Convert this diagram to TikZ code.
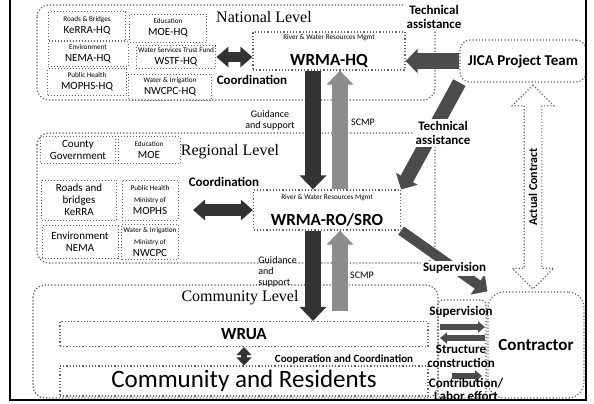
\documentclass[tikz,border=0pt]{standalone}
\usepackage{fontspec}
\setmainfont{Liberation Serif}
\newfontfamily\calfont{Carlito}
\usetikzlibrary{arrows.meta,shapes.arrows}

\newcommand{\smalltxt}[1]{{\calfont\fontsize{3.6}{4}\selectfont #1}}

\tikzset{
  levelbox/.style={draw=black!65, densely dotted, line width=0.6pt, rounded corners=6pt},
  levellabel/.style={font=\fontsize{8}{9}\selectfont, inner sep=1pt},
  orgbox/.style={draw=black!60, densely dotted, line width=0.5pt, align=center, inner sep=1pt,
    font=\calfont\fontsize{5.5}{6}\selectfont},
  wrmabox/.style={draw=black!60, densely dotted, line width=0.6pt, align=center, inner sep=1pt},
  roundbox/.style={draw=black!60, densely dotted, line width=0.6pt, rounded corners=5pt,
    font=\calfont\bfseries\fontsize{7.5}{8}\selectfont},
  lbl/.style={font=\calfont\bfseries\fontsize{6.5}{7}\selectfont, align=center, inner sep=1pt},
  smalllbl/.style={font=\calfont\fontsize{5}{5.5}\selectfont, align=center, inner sep=0.5pt},
  downarrow/.style={line width=8pt, draw=black!80, -{Triangle[width=13pt,length=7pt]}},
  uparrow/.style={line width=8pt, draw=black!45, -{Triangle[width=13pt,length=7pt]}},
  coordarrow/.style={line width=5pt, draw=black!80,
    {Triangle[width=10pt,length=6pt]}-{Triangle[width=10pt,length=6pt]}},
  helparrow/.style={line width=7pt, draw=black!70, -{Triangle[width=12pt,length=6pt]}},
  smallarrow/.style={line width=3pt, draw=black!70, -{Triangle[width=5.5pt,length=3.5pt]}},
  contractarrow/.style={shape=double arrow, draw=black!60, densely dotted, line width=0.6pt,
    rotate=90, minimum height=102pt, double arrow head extend=6pt, inner sep=2pt,
    font=\calfont\bfseries\fontsize{6}{7}\selectfont}
}

\begin{document}
\begin{tikzpicture}[x=0.5pt,y=-0.5pt]
\useasboundingbox (0,0) rectangle (594,403);

\draw[levelbox] (37,5) rectangle (435,100);
\draw[levelbox] (37,133) rectangle (435,263);
\draw[levelbox] (33,285) rectangle (438,398);
\draw[levelbox, rounded corners=2pt] (438,300) rectangle (486,398);

\node[levellabel] (natlevel) at (264,17) {National Level};
\node[levellabel] (reglevel) at (230,152) {Regional Level};
\node[levellabel] (comlevel) at (240,298) {Community Level};

\foreach \nm/\px/\py/\bw/\bh/\smtext/\mntext in {
    kerrahq/87/26/38.5/14.5/{Roads \& Bridges}/KeRRA-HQ,
    nemahq/88/54/40/12.5/Environment/NEMA-HQ,
    mophshq/87/82/39.5/13.5/{Public Health}/MOPHS-HQ,
    moehq/168/28/38.5/14/Education/MOE-HQ,
    wstfhq/176/57/35/10.5/{Water Services Trust Fund}/WSTF-HQ,
    nwcpchq/170/87/41.5/13/{Water \& Irrigation}/NWCPC-HQ}
  \node[orgbox, minimum width=\bw pt, minimum height=\bh pt] (\nm) at (\px,\py)
    {\smalltxt{\smtext}\\\mntext};

\foreach \nm/\px/\py/\bw/\bh/\mntext in {
    county/78/150/37.5/13.5/{County\\Government},
    moe/149/150/31/13.5/{\smalltxt{Education}\\MOE},
    roads/79/200/37.5/20/{Roads and\\bridges\\KeRRA},
    mophs/150/200/28/20/{\smalltxt{Public Health}\\\smalltxt{Ministry of}\\MOPHS},
    env/80/242/38/16.5/{Environment\\NEMA},
    nwcpc/150/242/28/17.5/{\smalltxt{Water \& Irrigation}\\\smalltxt{Ministry of}\\NWCPC}}
  \node[orgbox, minimum width=\bw pt, minimum height=\bh pt] (\nm) at (\px,\py) {\mntext};

\node[wrmabox, minimum width=76pt, minimum height=19pt] (hq) at (329,51)
  {\smalltxt{River \& Water Resources Mgmt}\\[1pt]{\calfont\bfseries\fontsize{8.5}{9}\selectfont WRMA-HQ}};
\node[wrmabox, minimum width=73.5pt, minimum height=20pt] (ro) at (327,210)
  {\smalltxt{River \& Water Resources Mgmt}\\[1pt]{\calfont\bfseries\fontsize{8.5}{9}\selectfont WRMA-RO/SRO}};
\node[wrmabox, minimum width=184pt, minimum height=12.5pt,
  font=\calfont\bfseries\fontsize{8.5}{9}\selectfont] (wrua) at (244,334) {WRUA};
\node[wrmabox, minimum width=184pt, minimum height=15pt,
  font=\calfont\fontsize{12.5}{13}\selectfont] (residents) at (244,381) {Community and Residents};

\node[roundbox, minimum width=63pt, minimum height=21pt] (jica) at (523,61) {JICA Project Team};
\node[roundbox, minimum width=48pt, minimum height=53pt, rounded corners=8pt,
  font=\calfont\bfseries\fontsize{8.5}{9}\selectfont] (contractor) at (536,345) {Contractor};

\node[contractarrow] (contract) at (533,187) {Actual Contract};

\coordinate (dnx) at (313,0);
\coordinate (upx) at (340,0);
\coordinate (regcoord) at (193,210);

\draw[coordarrow] (wstfhq.east) -- (wstfhq.east -| hq.west);
\draw[coordarrow, line width=6pt] (regcoord) -- (ro.west);
\draw[downarrow] (hq.south -| dnx) -- (ro.north -| dnx);
\draw[uparrow] (ro.north -| upx) -- (hq.south -| upx);
\draw[downarrow] (ro.south -| dnx) -- (wrua.north -| dnx);
\draw[uparrow, shorten <=5pt] (wrua.north -| upx) -- (ro.south -| upx);
\draw[helparrow, line width=8pt] (jica.west) -- (jica.west -| hq.east);
\draw[helparrow] (jica.south west) -- (ro.north east);
\draw[helparrow, line width=5pt] (ro.south east) -- node[lbl, fill=white, pos=0.62] (supdiag) {Supervision}
  (contractor.north west);
\draw[coordarrow, line width=3pt, {Triangle[width=7.5pt,length=4pt]}-{Triangle[width=7.5pt,length=4pt]}]
  (wrua.south) -- (residents.north);

\coordinate (supw) at (440,327);
\coordinate (supe) at (485,327);
\coordinate (strw) at (440,338);
\coordinate (stre) at (485,338);
\coordinate (conw) at (452,376);
\coordinate (cone) at (482,376);
\draw[smallarrow] (supw) -- (supe);
\draw[smallarrow] (stre) -- (strw);
\draw[smallarrow] (conw) -- (cone);

\node[lbl] (coordnat) at (252,80) {Coordination};
\node[lbl] (coordreg) at (224,182) {Coordination};
\node[lbl, fill=white] (techhq) at (434,17) {Technical\\assistance};
\node[lbl, fill=white] (techro) at (443,133) {Technical\\assistance};
\node[smalllbl] (guidehq) at (270,120) {Guidance\\and support};
\node[smalllbl] (scmphq) at (363,122) {SCMP};
\node[smalllbl, align=left, anchor=west] (guidero) at (257,272) {Guidance\\and\\support};
\node[smalllbl] (scmpro) at (362,275) {SCMP};
\node[lbl, font=\calfont\bfseries\fontsize{5.5}{6}\selectfont] (coop) at (344,359) {Cooperation and Coordination};
\node[lbl] (supbox) at (461,312) {Supervision};
\node[lbl] (structure) at (461,356) {Structure\\construction};
\node[lbl, font=\calfont\bfseries\fontsize{6.5}{6.5}\selectfont] (contribution) at (466,389) {Contribution/\\Labor effort};

\draw[line width=1.2pt] (10,0) -- (10,400) -- (586,400) -- (586,0);
\end{tikzpicture}
\end{document}
